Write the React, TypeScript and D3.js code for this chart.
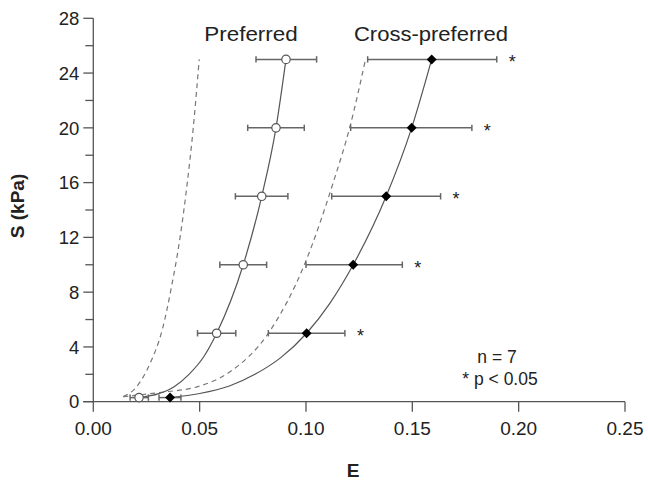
import * as d3 from "d3";

// S levels (kPa) for the measured points
const stressLevels = [0.3, 5, 10, 15, 20, 25];

// preferred direction: mean strain and error bar limits
const prefMean = [0.0215, 0.058, 0.0705, 0.0792, 0.0859, 0.0906];
const prefLow = [0.0173, 0.049, 0.0595, 0.0668, 0.0726, 0.0765];
const prefHigh = [0.0259, 0.067, 0.0815, 0.0915, 0.0992, 0.105];

// cross-preferred direction
const crossMean = [0.0361, 0.1003, 0.1222, 0.1377, 0.1497, 0.1591];
const crossLow = [0.0309, 0.0823, 0.1, 0.1121, 0.121, 0.129];
const crossHigh = [0.0412, 0.1183, 0.1453, 0.1633, 0.178, 0.1897];
const crossSignificant = [false, true, true, true, true, true];

// fitted curves (solid)
const prefFitE = [0.0205, 0.0215, 0.03, 0.038, 0.045, 0.052, 0.058, 0.0705, 0.0792, 0.0859, 0.0906];
const prefFitS = [0.27, 0.3, 0.55, 1.1, 2.0, 3.3, 5, 10, 15, 20, 25];
const crossFitE = [0.0361, 0.05, 0.064, 0.076, 0.088, 0.1003, 0.1113, 0.1222, 0.1377, 0.1497, 0.1591];
const crossFitS = [0.3, 0.6, 1.15, 2.0, 3.2, 5, 7.2, 10, 15, 20, 25];

// model curves (dashed)
const prefModelE = [0.0141, 0.0204, 0.0267, 0.0325, 0.0369, 0.0408, 0.0442, 0.047, 0.0498];
const prefModelS = [0.37, 1.1, 2.8, 5.3, 8.5, 12, 16, 20, 25];
const crossModelE = [0.0141, 0.03, 0.0502, 0.0643, 0.0823, 0.0995, 0.1128, 0.1207, 0.128];
const crossModelS = [0.37, 0.65, 1.15, 2.19, 5.0, 10.1, 16, 20.1, 25];

const xTicks = [0, 0.05, 0.1, 0.15, 0.2, 0.25];
const yTicks = [0, 4, 8, 12, 16, 20, 24, 28];
const yMinorTicks = [2, 6, 10, 14, 18, 22, 26];

const FONT = "'Liberation Sans', Arial, Helvetica, sans-serif";

export default function App() {
  const width = 648;
  const height = 482;
  const x = d3.scaleLinear().domain([0, 0.25]).range([93.3, 625]);
  const y = d3.scaleLinear().domain([0, 28]).range([401.7, 18.3]);

  const line = d3
    .line<[number, number]>()
    .x((d) => x(d[0]))
    .y((d) => y(d[1]))
    .curve(d3.curveMonotoneX);

  const zip = (a: number[], b: number[]) => a.map((v, i) => [v, b[i]] as [number, number]);

  const axisColor = "#555";
  const barColor = "#666";
  const cap = 3.2;

  return (
    <svg width={width} height={height} style={{ position: "absolute", left: 0, top: 0 }} fontFamily={FONT}>
      <rect width={width} height={height} fill="#fff" />

      {/* axes */}
      <line x1={x(0)} x2={x(0)} y1={y(28)} y2={y(0)} stroke={axisColor} strokeWidth={1.3} />
      <line x1={x(0) - 10} x2={x(0.25)} y1={y(0)} y2={y(0)} stroke={axisColor} strokeWidth={1.3} />
      {yTicks.map((t) => (
        <g key={"y" + t}>
          <line x1={x(0) - 10} x2={x(0)} y1={y(t)} y2={y(t)} stroke={axisColor} strokeWidth={1.3} />
          <text x={x(0) - 14} y={y(t)} dy="0.36em" textAnchor="end" fontSize={18.5} fill="#222">
            {t}
          </text>
        </g>
      ))}
      {yMinorTicks.map((t) => (
        <line key={"m" + t} x1={x(0) - 8} x2={x(0)} y1={y(t)} y2={y(t)} stroke={axisColor} strokeWidth={1.3} />
      ))}
      {xTicks.map((t) => (
        <g key={"x" + t}>
          <line x1={x(t)} x2={x(t)} y1={y(0)} y2={y(0) + 10} stroke={axisColor} strokeWidth={1.3} />
          <text x={x(t)} y={y(0) + 33} textAnchor="middle" fontSize={19} fill="#222">
            {t.toFixed(2)}
          </text>
        </g>
      ))}
      <text x={353} y={477} textAnchor="middle" fontSize={19} fontWeight="bold" fill="#222">
        E
      </text>
      <text
        transform={`translate(24,206) rotate(-90)`}
        textAnchor="middle"
        fontSize={19}
        fontWeight="bold"
        fill="#222"
      >
        S (kPa)
      </text>

      {/* curves */}
      <path d={line(zip(prefModelE, prefModelS)) || ""} fill="none" stroke="#777" strokeWidth={1.2} strokeDasharray="5,4" />
      <path d={line(zip(crossModelE, crossModelS)) || ""} fill="none" stroke="#777" strokeWidth={1.2} strokeDasharray="5,4" />
      <path d={line(zip(prefFitE, prefFitS)) || ""} fill="none" stroke="#555" strokeWidth={1.2} />
      <path d={line(zip(crossFitE, crossFitS)) || ""} fill="none" stroke="#555" strokeWidth={1.2} />

      {/* error bars */}
      {stressLevels.map((s, i) => (
        <g key={"eb" + i} stroke={barColor} strokeWidth={1.5}>
          <line x1={x(prefLow[i])} x2={x(prefHigh[i])} y1={y(s)} y2={y(s)} />
          <line x1={x(prefLow[i])} x2={x(prefLow[i])} y1={y(s) - cap} y2={y(s) + cap} />
          <line x1={x(prefHigh[i])} x2={x(prefHigh[i])} y1={y(s) - cap} y2={y(s) + cap} />
          <line x1={x(crossLow[i])} x2={x(crossHigh[i])} y1={y(s)} y2={y(s)} />
          <line x1={x(crossLow[i])} x2={x(crossLow[i])} y1={y(s) - cap} y2={y(s) + cap} />
          <line x1={x(crossHigh[i])} x2={x(crossHigh[i])} y1={y(s) - cap} y2={y(s) + cap} />
        </g>
      ))}

      {/* markers */}
      {stressLevels.map((s, i) => (
        <circle key={"c" + i} cx={x(prefMean[i])} cy={y(s)} r={4.2} fill="#fff" stroke="#555" strokeWidth={1.2} />
      ))}
      {stressLevels.map((s, i) => {
        const cx = x(crossMean[i]);
        const cy = y(s);
        const r = 5;
        return <path key={"d" + i} d={`M${cx},${cy - r}L${cx + r},${cy}L${cx},${cy + r}L${cx - r},${cy}Z`} fill="#000" />;
      })}
      {stressLevels.map((s, i) =>
        crossSignificant[i] ? (
          <text key={"a" + i} x={x(crossHigh[i]) + 12} y={y(s) + 9} fontSize={18} fill="#222">
            *
          </text>
        ) : null
      )}

      {/* labels */}
      <text transform="translate(251,41) scale(1.15,1)" textAnchor="middle" fontSize={19.5} fill="#222">
        Preferred
      </text>
      <text transform="translate(431,41) scale(1.13,1)" textAnchor="middle" fontSize={19.5} fill="#222">
        Cross-preferred
      </text>
      <text x={497} y={363} textAnchor="middle" fontSize={17.5} fill="#222">
        n = 7
      </text>
      <text x={500} y={385} textAnchor="middle" fontSize={17.5} fill="#222">
        * p &lt; 0.05
      </text>
    </svg>
  );
}
